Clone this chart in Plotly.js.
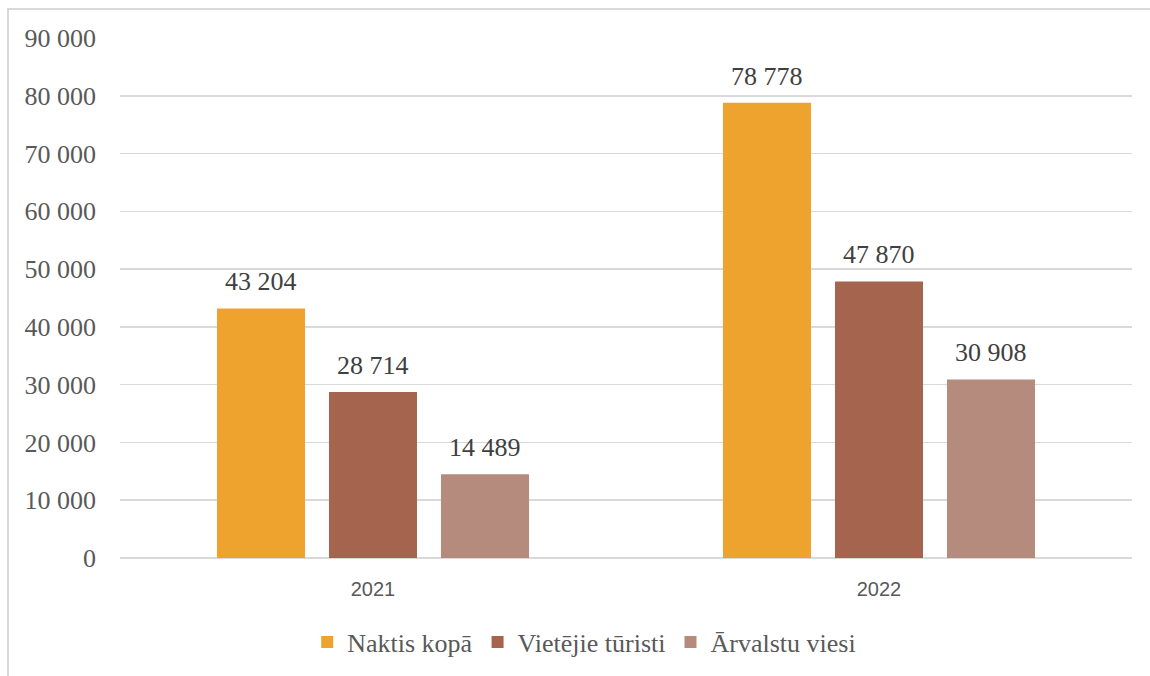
<!DOCTYPE html>
<html><head><meta charset="utf-8">
<script src="https://cdn.plot.ly/plotly-3.0.1.min.js"></script>
<style>
html,body{margin:0;padding:0;background:#fff;}
#wrap{position:relative;width:1150px;height:676px;}
#chart{position:absolute;left:0;top:0;width:1150px;height:676px;}
#frame{position:absolute;left:7px;top:8px;width:1160px;height:700px;border-left:2px solid #d9d9d9;border-top:2px solid #d9d9d9;pointer-events:none;}
</style></head>
<body><div id="wrap"><div id="chart"></div><div id="frame"></div></div>
<script>
const categories = ["2021", "2022"];
const seriesNames = ["Naktis kopā", "Vietējie tūristi", "Ārvalstu viesi"];
const naktisKopa = [43204, 78778];
const vietejieTuristi = [28714, 47870];
const arvalstuViesi = [14489, 30908];
const yTicks = [0, 10000, 20000, 30000, 40000, 50000, 60000, 70000, 80000, 90000];
const colors = ["#EFA32F", "#A5644D", "#B58B7E"];

const SERIF = "Liberation Serif";
const SANS = "Liberation Sans";
const seriesValues = [naktisKopa, vietejieTuristi, arvalstuViesi];
const traces = seriesValues.map((vals, i) => ({
  type: "bar",
  name: seriesNames[i],
  x: categories,
  y: vals,
  marker: {color: colors[i]},
  hoverinfo: "none"
}));

const fmt = v => String(v).replace(/\B(?=(\d{3})+(?!\d))/g, " ");
const slotPx = 112;
const annotations = [];
seriesValues.forEach((vals, i) => {
  vals.forEach((v, j) => {
    annotations.push({
      xref: "x", yref: "y", x: j, y: v,
      xshift: (i - 1) * slotPx, yshift: 10,
      text: fmt(v), showarrow: false, yanchor: "bottom", xanchor: "center",
      font: {family: SERIF, size: 26, color: "#404040"}
    });
  });
});

const layout = {
  width: 1150, height: 676,
  margin: {l: 120, r: 18, t: 38, b: 118},
  paper_bgcolor: "#fff", plot_bgcolor: "#fff",
  separators: ". ",
  barmode: "group",
  bargap: 0.336,
  bargroupgap: 0.214,
  showlegend: true,
  legend: {
    orientation: "h", x: 0.508, xanchor: "center", xref: "container",
    y: 1 - 642 / 676, yanchor: "middle", yref: "container",
    font: {family: SERIF, size: 26, color: "#595959"},
    itemwidth: 30, traceorder: "normal", tracegroupgap: 0
  },
  annotations: annotations,
  xaxis: {
    type: "category",
    showgrid: false, zeroline: false, showline: false,
    ticks: "",
    tickfont: {family: SANS, size: 20, color: "#595959"},
    ticklabelstandoff: 17
  },
  yaxis: {
    range: [0, 90000],
    tickvals: yTicks,
    tickformat: ",d",
    showgrid: true, gridcolor: "#d9d9d9", gridwidth: 1.5,
    zeroline: true, zerolinecolor: "#d9d9d9", zerolinewidth: 1.5,
    showline: false, ticks: "",
    ticklabelstandoff: 23,
    tickfont: {family: SERIF, size: 26, color: "#595959"}
  }
};
Plotly.newPlot("chart", traces, layout, {displayModeBar: false, staticPlot: true});
</script></body></html>
